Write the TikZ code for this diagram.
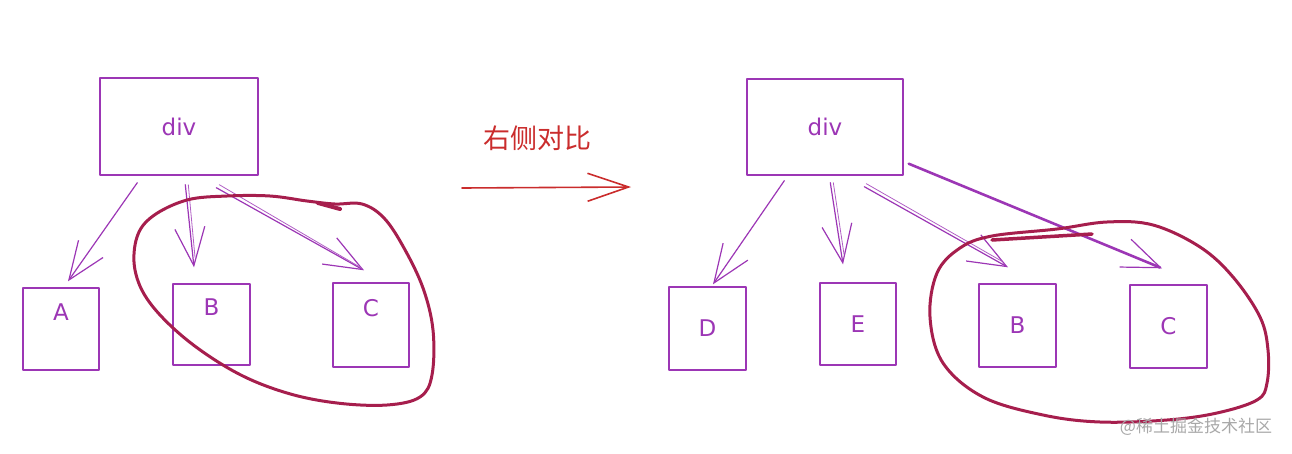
\documentclass[tikz,border=0pt]{standalone}
\usepackage{fontspec}
\setmainfont{DejaVu Sans}
\newfontfamily\cjk{Noto Sans CJK SC}
\usetikzlibrary{arrows.meta,calc}
\definecolor{pur}{HTML}{9C36B5}
\definecolor{crim}{HTML}{A61E4D}
\definecolor{redA}{HTML}{E03131}
\definecolor{wm}{HTML}{A8A8A8}
\begin{document}
\begin{tikzpicture}[x=1pt,y=-1pt,line cap=round,line join=round,
  sbox/.style 2 args={draw=pur, line width=1.4pt, minimum width=#1, minimum height=#2, inner sep=0pt, text=pur, font=\fontsize{23}{23}\selectfont},
  lab/.style={text=pur, font=\fontsize{23}{23}\selectfont},
  conn/.style={draw=pur, line width=1.2pt, -{Straight Barb[length=38pt,width=30pt,line width=1.2pt]}},
  thin/.style={draw=pur!80, line width=0.8pt},
  loop/.style={draw=crim, line width=3pt},
]
\useasboundingbox (0,0) rectangle (1292,453);
% ---------- left tree ----------
\node[sbox={158pt}{97pt}] (divL) at (179,126.5) {div};
\node[sbox={76pt}{82pt}, label={[lab,yshift=17pt]center:A}] (A) at (61,329) {};
\node[sbox={77pt}{81pt}, label={[lab,yshift=17pt]center:B}] (Bl) at (211.5,324.5) {};
\node[sbox={76pt}{84pt}, label={[lab,yshift=17pt]center:C}] (Cl) at (371,325) {};
\coordinate (sA) at ($(divL.south west)+(38,7)$);
\coordinate (eA) at ($(A.north)+(7,-6)$);
\coordinate (sB) at ($(divL.south west)+(86,9)$);
\coordinate (eB) at ($(Bl.north)+(-17.5,-16)$);
\coordinate (sC) at ($(divL.south west)+(117,12)$);
\coordinate (eC) at ($(Cl.north)+(-7,-12)$);
\draw[conn] (sA) -- (eA);
\draw[conn] (sB) -- (eB);
\draw[thin] ($(sB)+(3,0)$) -- ($(eB)+(1,-10)$);
\draw[conn] (sC) -- (eC);
\draw[thin] ($(sC)+(3,-3)$) -- ($(eC)+(-2,-2)$);
% left loop
\draw[loop] plot[smooth cycle, tension=0.6] coordinates {(335,204) (362,204) (384,218) (404,248) (423,288) (433,330) (432,375) (420,397) (387,405) (337,403) (287,393) (237,373) (187,340) (150,303) (135,270) (137,237) (153,216) (187,200) (227,196) (270,196) (307,201)};
\draw[crim, line width=4pt] (318,203) -- (340,209);
% ---------- middle arrow ----------
\node[text=redA!90!black, font=\cjk\fontsize{27}{27}\selectfont] (lbl) at (537,138) {右侧对比};
\coordinate (rs) at (462,188);
\coordinate (re) at (631,187);
\draw[redA!90!black, line width=1.6pt, -{Straight Barb[length=41pt,width=28pt]}] (rs) -- (re);
% ---------- right tree ----------
\node[sbox={156pt}{96pt}] (divR) at (825,127) {div};
\node[sbox={77pt}{83pt}] (D) at (707.5,328.5) {D};
\node[sbox={76pt}{82pt}] (E) at (858,324) {E};
\node[sbox={77pt}{83pt}] (Br) at (1017.5,325.5) {B};
\node[sbox={77pt}{83pt}] (Cr) at (1168.5,326.5) {C};
\coordinate (sD) at ($(divR.south west)+(38,5)$);
\coordinate (eD) at ($(D.north)+(5.5,-2)$);
\coordinate (sE) at ($(divR.south west)+(84,7)$);
\coordinate (eE) at ($(E.north)+(-15,-18)$);
\coordinate (sB2) at ($(divR.south west)+(118,11)$);
\coordinate (eB2) at ($(Br.north)+(-9.5,-16)$);
\coordinate (sC2) at ($(divR.south east)+(5,-12)$);
\coordinate (eC2) at ($(Cr.north)+(-6.5,-16)$);
\draw[conn] (sD) -- (eD);
\draw[conn] (sE) -- (eE);
\draw[thin] ($(sE)+(3,0)$) -- ($(eE)+(1,-10)$);
\draw[conn] (sB2) -- (eB2);
\draw[thin] ($(sB2)+(2,-3)$) -- ($(eB2)+(-6,-6)$);
\draw[conn, line width=2.6pt] (sC2) -- (eC2);
% right loop
\draw[loop] plot[smooth cycle, tension=0.6] coordinates {(1057,229) (1107,222) (1153,225) (1200,247) (1233,277) (1260,317) (1268,350) (1267,383) (1257,400) (1217,413) (1167,420) (1100,422) (1043,415) (983,397) (943,363) (930,317) (937,273) (960,248) (992,236)};
\draw[crim, line width=3.5pt] (992,240) -- (1092,234);
% watermark
\node[text=wm, font=\cjk\fontsize{17}{17}\selectfont] (wmk) at (1196,427) {@稀土掘金技术社区};
\end{tikzpicture}
\end{document}
